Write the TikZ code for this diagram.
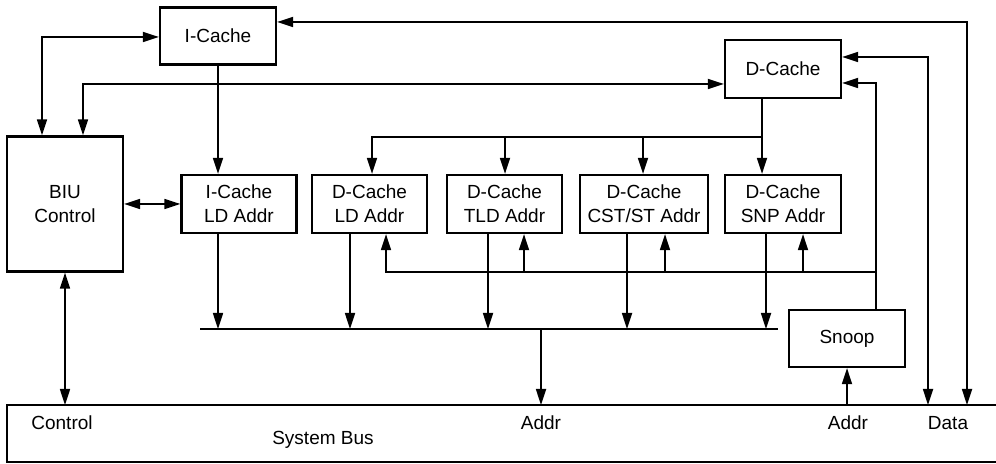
\documentclass[tikz,border=0pt]{standalone}
\usepackage{fontspec}
\setmainfont{Liberation Sans}
\usetikzlibrary{arrows.meta}
\begin{document}
\begin{tikzpicture}[x=0.5pt,y=-0.5pt,
  box/.style={draw,line width=1.1pt,inner sep=0pt,align=center,font=\fontsize{9.5}{12}\selectfont},
  conn/.style={line width=0.85pt},
  tip/.style={-{Triangle[length=8pt,width=5pt]}},
  twotip/.style={{Triangle[length=8pt,width=5pt]}-{Triangle[length=8pt,width=5pt]}},
  lbl/.style={font=\fontsize{9.5}{12}\selectfont,inner sep=0pt}]
\useasboundingbox (0,0) rectangle (996,464);
% boxes
\node[box,minimum width=58pt,minimum height=28.5pt] (icache) at (218,36) {I-Cache};
\node[box,minimum width=58pt,minimum height=67.5pt] (biu) at (65,204) {BIU\\Control};
\node[box,minimum width=57.5pt,minimum height=29pt] (ild) at (239,204) {I-Cache\\LD Addr};
\node[box,minimum width=57.5pt,minimum height=29pt] (dld) at (369.5,204) {D-Cache\\LD Addr};
\node[box,minimum width=57.5pt,minimum height=29pt] (tld) at (504.5,204) {D-Cache\\TLD Addr};
\node[box,minimum width=64pt,minimum height=29pt] (cst) at (644,204) {D-Cache\\CST/ST Addr};
\node[box,minimum width=58pt,minimum height=29pt] (snp) at (783,204) {D-Cache\\SNP Addr};
\node[box,minimum width=58pt,minimum height=29pt] (dcache) at (783,69) {D-Cache};
\node[box,minimum width=58pt,minimum height=28.5pt] (snoop) at (847,338.5) {Snoop};
% system bus
\draw[line width=1.1pt] (996,405) -- (7,405) -- (7,462) -- (996,462);
\coordinate (bustop) at (7,405);
\node[lbl] (lcontrol) at (62,423) {Control};
\node[lbl] (lsys) at (323,440) {System Bus};
\node[lbl] (laddr1) at (541,423) {Addr};
\node[lbl] (laddr2) at (848,423) {Addr};
\node[lbl] (ldata) at (948,423) {Data};
% helper columns / rows
\coordinate (c42) at (42,0);
\coordinate (c83) at (83,0);
\coordinate (c218) at (218,0);
\coordinate (c350) at (350,0);
\coordinate (c372) at (372,0);
\coordinate (c386) at (386,0);
\coordinate (c488) at (488,0);
\coordinate (c505) at (505,0);
\coordinate (c524) at (524,0);
\coordinate (c541) at (541,0);
\coordinate (c627) at (627,0);
\coordinate (c643) at (643,0);
\coordinate (c665) at (665,0);
\coordinate (c762) at (762,0);
\coordinate (c766) at (766,0);
\coordinate (c803) at (803,0);
\coordinate (c876) at (876,0);
\coordinate (c928) at (928,0);
\coordinate (c967) at (967,0);
\coordinate (h137) at (0,137);
\coordinate (h272) at (0,272);
\coordinate (al1) at (200,329);
\coordinate (al2) at (778,329);
% connectors
\draw[conn,twotip] (biu.north -| c42) |- ([yshift=-0.5pt]icache.west);
\draw[conn,twotip] (biu.north -| c83) |- ([yshift=-7.5pt]dcache.west);
\draw[conn,tip] (icache.south) -- (icache.south |- ild.north);
\draw[conn,twotip] (biu.east |- ild.west) -- (ild.west);
\draw[conn,twotip] ([yshift=7pt]icache.east) -| (c967 |- bustop);
\draw[conn,twotip] ([yshift=6pt]dcache.east) -| (c928 |- bustop);
\draw[conn,tip] (snoop.north -| c876) |- ([yshift=-7pt]dcache.east);
% D-Cache fan-out
\draw[conn,tip] (dcache.south -| c762) -- (c762 |- snp.north);
\draw[conn,tip] (c762 |- h137) -| (c372 |- dld.north);
\draw[conn,tip] (c505 |- h137) -- (c505 |- tld.north);
\draw[conn,tip] (c643 |- h137) -- (c643 |- cst.north);
% snoop address fan-out
\draw[conn,tip] (c876 |- h272) -| (c386 |- dld.south);
\draw[conn,tip] (c524 |- h272) -- (c524 |- tld.south);
\draw[conn,tip] (c665 |- h272) -- (c665 |- cst.south);
\draw[conn,tip] (c803 |- h272) -- (c803 |- snp.south);
% address line
\draw[conn] (al1) -- (al2);
\draw[conn,tip] (ild.south -| c218) -- (c218 |- al1);
\draw[conn,tip] (dld.south -| c350) -- (c350 |- al1);
\draw[conn,tip] (tld.south -| c488) -- (c488 |- al1);
\draw[conn,tip] (cst.south -| c627) -- (c627 |- al1);
\draw[conn,tip] (snp.south -| c766) -- (c766 |- al1);
\draw[conn,tip] (c541 |- al1) -- (c541 |- bustop);
% bus connections
\draw[conn,tip] (snoop.south |- bustop) -- (snoop.south);
\draw[conn,twotip] (biu.south) -- (biu.south |- bustop);
\end{tikzpicture}
\end{document}
